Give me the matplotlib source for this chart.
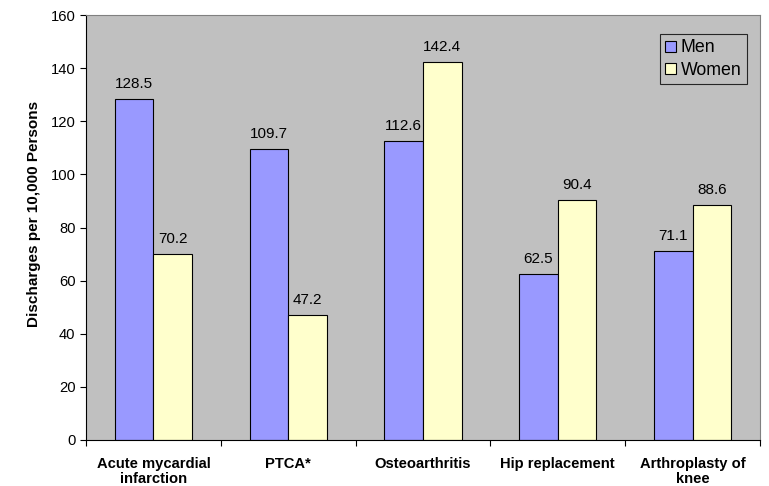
import matplotlib
matplotlib.use("Agg")
import matplotlib.pyplot as plt
import numpy as np

categories = ["Acute mycardial\ninfarction", "PTCA*", "Osteoarthritis",
              "Hip replacement", "Arthroplasty of\nknee"]
men = [128.5, 109.7, 112.6, 62.5, 71.1]
women = [70.2, 47.2, 142.4, 90.4, 88.6]
yticks = [0, 20, 40, 60, 80, 100, 120, 140, 160]

plt.rcParams["font.family"] = ["Liberation Sans", "DejaVu Sans"]

fig = plt.figure(figsize=(7.69, 4.86), dpi=100)
ax = fig.add_axes([0.1118, 0.0947, 0.8765, 0.8743])
ax.set_facecolor("#C0C0C0")

x = np.arange(len(categories))
w = 1 / 3.5
b1 = ax.bar(x - w / 2, men, w, color="#9999FF", edgecolor="black", linewidth=0.8, label="Men")
b2 = ax.bar(x + w / 2, women, w, color="#FFFFCC", edgecolor="black", linewidth=0.8, label="Women")

for bars, vals in ((b1, men), (b2, women)):
    for r, v in zip(bars, vals):
        ax.text(r.get_x() + r.get_width() / 2, v + 3, f"{v:.1f}",
                ha="center", va="bottom", fontsize=11)

ax.set_xlim(-0.5, len(categories) - 0.5)
ax.set_ylim(0, 160)
ax.set_yticks(yticks)
ax.set_yticklabels([str(t) for t in yticks], fontsize=10.6)
ax.tick_params(axis="y", length=4, direction="out")
ax.set_xticks(np.arange(len(categories) + 1) - 0.5, minor=False)
ax.set_xticklabels([""] * (len(categories) + 1))
ax.tick_params(axis="x", length=4, direction="out")
ax.set_xticks(x, minor=True)
ax.set_xticklabels(categories, minor=True, fontsize=10.6, fontweight="bold",
                   linespacing=1.12)
ax.tick_params(axis="x", which="minor", length=0, pad=12)

ax.set_ylabel("Discharges per 10,000 Persons", fontsize=11, fontweight="bold")
ax.yaxis.set_label_coords(-0.067, 0.533)

for s in ("top", "right"):
    ax.spines[s].set_color("#808080")
for s in ("left", "bottom"):
    ax.spines[s].set_color("black")

leg = ax.legend(loc="upper right", bbox_to_anchor=(0.98, 0.955),
                prop={"size": 12.75},
                frameon=True, fancybox=False, edgecolor="black", facecolor="#C0C0C0",
                handlelength=0.6, handleheight=0.6, handletextpad=0.25,
                borderpad=0.3, labelspacing=0.3, borderaxespad=0)
leg.get_frame().set_linewidth(0.8)

fig.savefig("out.png", dpi=100)
